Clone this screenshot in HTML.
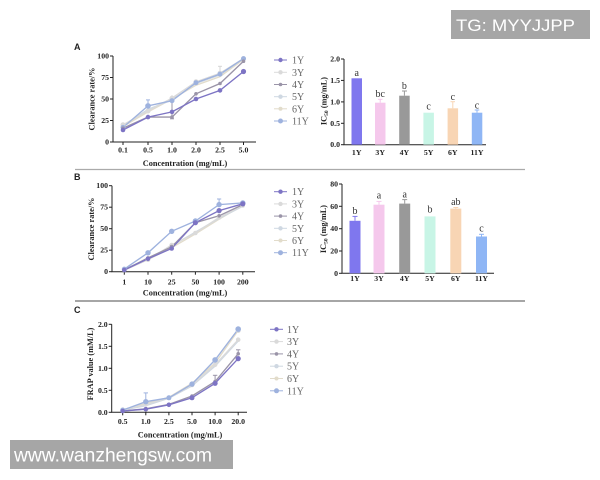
<!DOCTYPE html>
<html><head><meta charset="utf-8"><style>
html,body{margin:0;padding:0;background:#fff;}
svg{display:block;}
.t{font-family:"Liberation Serif",serif;font-weight:bold;font-size:7.8px;fill:#222;}
.tt{font-family:"Liberation Serif",serif;font-weight:bold;font-size:8.3px;fill:#222;}
.lg{font-family:"Liberation Serif",serif;font-size:10px;fill:#666;}
.ax{stroke:#222;stroke-width:1;fill:none;}
.pl{font-family:"Liberation Sans",sans-serif;font-weight:bold;font-size:9px;fill:#222;}
.let{font-family:"Liberation Serif",serif;font-size:10px;fill:#333;}
polyline{stroke-width:1.35;}
</style></head><body>
<svg width="600" height="480" viewBox="0 0 600 480" xmlns="http://www.w3.org/2000/svg">
<rect width="600" height="480" fill="#fff"/>

<!-- separators -->
<line x1="75" y1="169.5" x2="525" y2="169.5" stroke="#aaa" stroke-width="1.2"/>
<line x1="75" y1="301" x2="525" y2="301" stroke="#888" stroke-width="1.5"/>

<!-- ============ PANEL A LINE ============ -->
<text class="pl" x="74" y="50">A</text>
<g>
<path class="ax" d="M113,56 V142 H256"/>
<g stroke="#222">
<line x1="110" y1="142" x2="113" y2="142"/><line x1="110" y1="120.5" x2="113" y2="120.5"/><line x1="110" y1="99" x2="113" y2="99"/><line x1="110" y1="77.5" x2="113" y2="77.5"/><line x1="110" y1="56" x2="113" y2="56"/>
<line x1="123" y1="142" x2="123" y2="145"/><line x1="148" y1="142" x2="148" y2="145"/><line x1="172" y1="142" x2="172" y2="145"/><line x1="196" y1="142" x2="196" y2="145"/><line x1="220" y1="142" x2="220" y2="145"/><line x1="243.5" y1="142" x2="243.5" y2="145"/>
</g>
<g class="t" text-anchor="end">
<text x="109" y="144.5">0</text><text x="109" y="123">25</text><text x="109" y="101.5">50</text><text x="109" y="80">75</text><text x="109" y="58.5">100</text>
</g>
<g class="t" text-anchor="middle">
<text x="123" y="152.5">0.1</text><text x="148" y="152.5">0.5</text><text x="172" y="152.5">1.0</text><text x="196" y="152.5">2.0</text><text x="220" y="152.5">2.5</text><text x="243.5" y="152.5">5.0</text>
</g>
<g class="tt" text-anchor="middle">
<text x="185" y="166">Concentration (mg/mL)</text>
<text transform="translate(94.5,99) rotate(-90)">Clearance rate/%</text>
</g>
<!-- error bars -->
<line x1="148" y1="99.9" x2="148" y2="106" stroke="#9eb2de"/><line x1="146" y1="99.9" x2="150" y2="99.9" stroke="#9eb2de"/>
<line x1="172" y1="95.5" x2="172" y2="118.8" stroke="#9a94a8"/><line x1="170" y1="118.8" x2="174" y2="118.8" stroke="#9a94a8"/>
<line x1="220" y1="66.3" x2="220" y2="74" stroke="#d6d6d6"/><line x1="218" y1="66.3" x2="222" y2="66.3" stroke="#d6d6d6"/>
<!-- series -->
<polyline fill="none" stroke="#e2dccb" points="123,126.5 148,111.9 172,99 196,85.2 220,76.6 243.5,59.4"/>
<polyline fill="none" stroke="#cfd8e2" points="123,125.7 148,109.3 172,99.9 196,83.5 220,74.9 243.5,58.6"/>
<polyline fill="none" stroke="#dadada" points="123,124.8 148,111 172,98.1 196,81.8 220,73.2 243.5,58.6"/>
<polyline fill="none" stroke="#9eb2de" points="123,127.4 148,105.9 172,100.7 196,82.7 220,74.1 243.5,58.6"/>
<polyline fill="none" stroke="#9a94a8" points="123,128.2 148,117.1 172,117.1 196,93.8 220,83.5 243.5,61.2"/>
<polyline fill="none" stroke="#7d74c4" points="123,130 148,117.1 172,111.9 196,99 220,90.4 243.5,71.5"/>
<g fill="#dadada"><circle cx="123" cy="124.8" r="2.5"/><circle cx="148" cy="111" r="2.5"/><circle cx="172" cy="98.1" r="2.5"/><circle cx="196" cy="81.8" r="2.5"/><circle cx="220" cy="73.2" r="2.5"/><circle cx="243.5" cy="58.6" r="2.5"/></g>
<g fill="#9eb2de"><circle cx="123" cy="127.4" r="2.5"/><circle cx="148" cy="105.9" r="2.8"/><circle cx="172" cy="100.7" r="2.5"/><circle cx="196" cy="82.7" r="2.5"/><circle cx="220" cy="74.1" r="2.5"/><circle cx="243.5" cy="58.6" r="2.5"/></g>
<g fill="#9a94a8"><circle cx="123" cy="128.2" r="1.8"/><circle cx="148" cy="117.1" r="1.8"/><circle cx="172" cy="117.1" r="1.8"/><circle cx="196" cy="93.8" r="1.8"/><circle cx="220" cy="83.5" r="1.8"/><circle cx="243.5" cy="61.2" r="1.8"/></g>
<g fill="#7d74c4"><circle cx="123" cy="130" r="2.3"/><circle cx="148" cy="117.1" r="2.3"/><circle cx="172" cy="111.9" r="2.3"/><circle cx="196" cy="99" r="2.3"/><circle cx="220" cy="90.4" r="2.3"/><circle cx="243.5" cy="71.5" r="2.6"/></g>
</g>
<!-- legend A -->
<g>
<line x1="274" y1="60" x2="287" y2="60" stroke="#7d74c4"/><circle cx="280.5" cy="60" r="2.2" fill="#7d74c4"/>
<line x1="274" y1="72.3" x2="287" y2="72.3" stroke="#dadada"/><circle cx="280.5" cy="72.3" r="2.2" fill="#dadada"/>
<line x1="274" y1="84.5" x2="287" y2="84.5" stroke="#9a94a8"/><circle cx="280.5" cy="84.5" r="1.8" fill="#9a94a8"/>
<line x1="274" y1="96.7" x2="287" y2="96.7" stroke="#cfd8e2"/><circle cx="280.5" cy="96.7" r="2.2" fill="#cfd8e2"/>
<line x1="274" y1="108.8" x2="287" y2="108.8" stroke="#e2dccb"/><circle cx="280.5" cy="108.8" r="2" fill="#e2dccb"/>
<line x1="274" y1="121" x2="287" y2="121" stroke="#9eb2de"/><circle cx="280.5" cy="121" r="2.5" fill="#9eb2de"/>
<g class="lg"><text x="292" y="63.5">1Y</text><text x="292" y="75.8">3Y</text><text x="292" y="88">4Y</text><text x="292" y="100.2">5Y</text><text x="292" y="112.3">6Y</text><text x="292" y="124.5">11Y</text></g>
</g>

<!-- ============ PANEL A BAR ============ -->
<g>
<path class="ax" d="M344,59 V144.7 H486"/>
<g stroke="#222">
<line x1="341" y1="144.7" x2="344" y2="144.7"/><line x1="341" y1="123.3" x2="344" y2="123.3"/><line x1="341" y1="101.9" x2="344" y2="101.9"/><line x1="341" y1="80.4" x2="344" y2="80.4"/><line x1="341" y1="59" x2="344" y2="59"/>
</g>
<g class="t" text-anchor="end">
<text x="340" y="147.2">0.0</text><text x="340" y="125.8">0.5</text><text x="340" y="104.4">1.0</text><text x="340" y="82.9">1.5</text><text x="340" y="61.5">2.0</text>
</g>
<rect x="351.5" y="78.3" width="10.5" height="66.4" fill="#7f77ee"/>
<rect x="375" y="102.7" width="10.5" height="42" fill="#f5c8ec"/>
<rect x="399.2" y="95.7" width="10.5" height="49" fill="#999"/>
<rect x="423.4" y="112.7" width="10.5" height="32" fill="#c8f5e6"/>
<rect x="447.6" y="108.3" width="10.5" height="36.4" fill="#f8d5b4"/>
<rect x="471.8" y="112.7" width="10.5" height="32" fill="#8fb6f5"/>
<g stroke-width="1">
<line x1="380.2" y1="99.3" x2="380.2" y2="102.7" stroke="#f5c8ec"/><line x1="378" y1="99.3" x2="382.5" y2="99.3" stroke="#f5c8ec"/>
<line x1="404.4" y1="91" x2="404.4" y2="95.7" stroke="#999"/><line x1="402" y1="91" x2="407" y2="91" stroke="#999"/>
<line x1="452.8" y1="101.7" x2="452.8" y2="108.3" stroke="#f8d5b4"/><line x1="450.5" y1="101.7" x2="455" y2="101.7" stroke="#f8d5b4"/>
<line x1="477" y1="110" x2="477" y2="112.7" stroke="#8fb6f5"/><line x1="474.7" y1="110" x2="479.3" y2="110" stroke="#8fb6f5"/>
</g>
<g class="let" text-anchor="middle">
<text x="356.7" y="76">a</text><text x="380.2" y="97">bc</text><text x="404.4" y="89">b</text><text x="428.6" y="109.5">c</text><text x="452.8" y="100">c</text><text x="477" y="108.5">c</text>
</g>
<g class="t" text-anchor="middle">
<text x="356.7" y="155">1Y</text><text x="380.2" y="155">3Y</text><text x="404.4" y="155">4Y</text><text x="428.6" y="155">5Y</text><text x="452.8" y="155">6Y</text><text x="477" y="155">11Y</text>
</g>
<g class="tt" text-anchor="middle">
<text transform="translate(326.5,101) rotate(-90)">IC<tspan font-size="5.5" dy="1.5">50</tspan><tspan dy="-1.5"> (mg/mL)</tspan></text>
</g>
</g>

<!-- ============ PANEL B LINE ============ -->
<text class="pl" x="74" y="180">B</text>
<g>
<path class="ax" d="M112,185.7 V271.7 H255"/>
<g stroke="#222">
<line x1="109" y1="271.7" x2="112" y2="271.7"/><line x1="109" y1="250.2" x2="112" y2="250.2"/><line x1="109" y1="228.7" x2="112" y2="228.7"/><line x1="109" y1="207.2" x2="112" y2="207.2"/><line x1="109" y1="185.7" x2="112" y2="185.7"/>
<line x1="124.3" y1="271.7" x2="124.3" y2="274.7"/><line x1="148" y1="271.7" x2="148" y2="274.7"/><line x1="171.7" y1="271.7" x2="171.7" y2="274.7"/><line x1="195.4" y1="271.7" x2="195.4" y2="274.7"/><line x1="219.1" y1="271.7" x2="219.1" y2="274.7"/><line x1="242.8" y1="271.7" x2="242.8" y2="274.7"/>
</g>
<g class="t" text-anchor="end">
<text x="108" y="274.2">0</text><text x="108" y="252.7">25</text><text x="108" y="231.2">50</text><text x="108" y="209.7">75</text><text x="108" y="188.2">100</text>
</g>
<g class="t" text-anchor="middle">
<text x="124.3" y="284.5">1</text><text x="148" y="284.5">10</text><text x="171.7" y="284.5">25</text><text x="195.4" y="284.5">50</text><text x="219.1" y="284.5">100</text><text x="242.8" y="284.5">200</text>
</g>
<g class="tt" text-anchor="middle">
<text x="185" y="295.5">Concentration (mg/mL)</text>
<text transform="translate(94,229) rotate(-90)">Clearance rate/%</text>
</g>
<line x1="219.1" y1="199" x2="219.1" y2="204.6" stroke="#9eb2de"/><line x1="217" y1="199" x2="221.2" y2="199" stroke="#9eb2de"/>
<polyline fill="none" stroke="#e2dccb" points="124.3,270 148,259.7 171.7,247.6 195.4,233.9 219.1,219.2 242.8,205.5"/>
<polyline fill="none" stroke="#cfd8e2" points="124.3,269.1 148,258.8 171.7,245.9 195.4,232.1 219.1,218.4 242.8,206.3"/>
<polyline fill="none" stroke="#dadada" points="124.3,270 148,259.7 171.7,245 195.4,233 219.1,217.5 242.8,205.5"/>
<polyline fill="none" stroke="#9eb2de" points="124.3,269.1 148,252.8 171.7,231.3 195.4,221 219.1,204.6 242.8,202.9"/>
<polyline fill="none" stroke="#9a94a8" points="124.3,270 148,257.9 171.7,246.8 195.4,222.7 219.1,215.8 242.8,204.6"/>
<polyline fill="none" stroke="#7d74c4" points="124.3,270 148,258.8 171.7,248.5 195.4,222.7 219.1,210.6 242.8,203.8"/>
<g fill="#dadada"><circle cx="124.3" cy="270" r="2.3"/><circle cx="148" cy="259.7" r="2.3"/><circle cx="171.7" cy="245" r="2.3"/><circle cx="195.4" cy="233" r="2.3"/><circle cx="219.1" cy="217.5" r="2.3"/><circle cx="242.8" cy="205.5" r="2.3"/></g>
<g fill="#9eb2de"><circle cx="124.3" cy="269.1" r="2.5"/><circle cx="148" cy="252.8" r="2.7"/><circle cx="171.7" cy="231.3" r="2.7"/><circle cx="195.4" cy="221" r="2.7"/><circle cx="219.1" cy="204.6" r="2.7"/><circle cx="242.8" cy="202.9" r="2.7"/></g>
<g fill="#9a94a8"><circle cx="124.3" cy="270" r="1.8"/><circle cx="148" cy="257.9" r="1.8"/><circle cx="171.7" cy="246.8" r="2"/><circle cx="195.4" cy="222.7" r="2"/><circle cx="219.1" cy="215.8" r="1.8"/><circle cx="242.8" cy="204.6" r="1.8"/></g>
<g fill="#7d74c4"><circle cx="124.3" cy="270" r="2.3"/><circle cx="148" cy="258.8" r="2.3"/><circle cx="171.7" cy="248.5" r="2.3"/><circle cx="195.4" cy="222.7" r="2.6"/><circle cx="219.1" cy="210.6" r="2.6"/><circle cx="242.8" cy="203.8" r="2.6"/></g>
</g>
<!-- legend B -->
<g>
<line x1="274" y1="191.7" x2="287" y2="191.7" stroke="#7d74c4"/><circle cx="280.5" cy="191.7" r="2.2" fill="#7d74c4"/>
<line x1="274" y1="203.9" x2="287" y2="203.9" stroke="#dadada"/><circle cx="280.5" cy="203.9" r="2.2" fill="#dadada"/>
<line x1="274" y1="216.1" x2="287" y2="216.1" stroke="#9a94a8"/><circle cx="280.5" cy="216.1" r="1.8" fill="#9a94a8"/>
<line x1="274" y1="228.3" x2="287" y2="228.3" stroke="#cfd8e2"/><circle cx="280.5" cy="228.3" r="2.2" fill="#cfd8e2"/>
<line x1="274" y1="240.5" x2="287" y2="240.5" stroke="#e2dccb"/><circle cx="280.5" cy="240.5" r="2" fill="#e2dccb"/>
<line x1="274" y1="252.7" x2="287" y2="252.7" stroke="#9eb2de"/><circle cx="280.5" cy="252.7" r="2.5" fill="#9eb2de"/>
<g class="lg"><text x="292" y="195.2">1Y</text><text x="292" y="207.4">3Y</text><text x="292" y="219.6">4Y</text><text x="292" y="231.8">5Y</text><text x="292" y="244">6Y</text><text x="292" y="256.2">11Y</text></g>
</g>

<!-- ============ PANEL B BAR ============ -->
<g>
<path class="ax" d="M342,184 V273.3 H494"/>
<g stroke="#222">
<line x1="339" y1="273.3" x2="342" y2="273.3"/><line x1="339" y1="251" x2="342" y2="251"/><line x1="339" y1="228.7" x2="342" y2="228.7"/><line x1="339" y1="206.3" x2="342" y2="206.3"/><line x1="339" y1="184" x2="342" y2="184"/>
</g>
<g class="t" text-anchor="end">
<text x="338" y="275.8">0</text><text x="338" y="253.5">20</text><text x="338" y="231.2">40</text><text x="338" y="208.8">60</text><text x="338" y="186.5">80</text>
</g>
<rect x="349.5" y="220.8" width="11" height="52.5" fill="#7f77ee"/>
<rect x="373.5" y="204.7" width="11" height="68.6" fill="#f5c8ec"/>
<rect x="399.2" y="203.6" width="11" height="69.7" fill="#999"/>
<rect x="424.5" y="216.4" width="11" height="56.9" fill="#c8f5e6"/>
<rect x="450.3" y="208.6" width="11" height="64.7" fill="#f8d5b4"/>
<rect x="476" y="236.5" width="11" height="36.8" fill="#8fb6f5"/>
<g>
<line x1="355" y1="216.4" x2="355" y2="220.8" stroke="#7f77ee"/><line x1="352.5" y1="216.4" x2="357.5" y2="216.4" stroke="#7f77ee"/>
<line x1="379" y1="201.4" x2="379" y2="204.7" stroke="#f5c8ec"/><line x1="376.5" y1="201.4" x2="381.5" y2="201.4" stroke="#f5c8ec"/>
<line x1="404.7" y1="199.6" x2="404.7" y2="203.6" stroke="#999"/><line x1="402.2" y1="199.6" x2="407.2" y2="199.6" stroke="#999"/>
<line x1="455.8" y1="207.5" x2="455.8" y2="208.6" stroke="#f8d5b4"/><line x1="453.3" y1="207.5" x2="458.3" y2="207.5" stroke="#f8d5b4"/>
<line x1="481.5" y1="234.3" x2="481.5" y2="236.5" stroke="#8fb6f5"/><line x1="479" y1="234.3" x2="484" y2="234.3" stroke="#8fb6f5"/>
</g>
<g class="let" text-anchor="middle">
<text x="355" y="214">b</text><text x="379" y="198.5">a</text><text x="404.7" y="197.5">a</text><text x="430" y="212.5">b</text><text x="455.8" y="205">ab</text><text x="481.5" y="231.5">c</text>
</g>
<g class="t" text-anchor="middle">
<text x="355" y="281">1Y</text><text x="379" y="281">3Y</text><text x="404.7" y="281">4Y</text><text x="430" y="281">5Y</text><text x="455.8" y="281">6Y</text><text x="481.5" y="281">11Y</text>
</g>
<g class="tt" text-anchor="middle">
<text transform="translate(326,229) rotate(-90)">IC<tspan font-size="5.5" dy="1.5">50</tspan><tspan dy="-1.5"> (mg/mL)</tspan></text>
</g>
</g>

<!-- ============ PANEL C LINE ============ -->
<text class="pl" x="74" y="313">C</text>
<g>
<path class="ax" d="M111.7,324.3 V412.3 H247"/>
<g stroke="#222">
<line x1="108.7" y1="412.3" x2="111.7" y2="412.3"/><line x1="108.7" y1="390.3" x2="111.7" y2="390.3"/><line x1="108.7" y1="368.3" x2="111.7" y2="368.3"/><line x1="108.7" y1="346.3" x2="111.7" y2="346.3"/><line x1="108.7" y1="324.3" x2="111.7" y2="324.3"/>
<line x1="122.7" y1="412.3" x2="122.7" y2="415.3"/><line x1="145.8" y1="412.3" x2="145.8" y2="415.3"/><line x1="168.9" y1="412.3" x2="168.9" y2="415.3"/><line x1="192" y1="412.3" x2="192" y2="415.3"/><line x1="215.1" y1="412.3" x2="215.1" y2="415.3"/><line x1="238.2" y1="412.3" x2="238.2" y2="415.3"/>
</g>
<g class="t" text-anchor="end">
<text x="107.7" y="414.8">0.0</text><text x="107.7" y="392.8">0.5</text><text x="107.7" y="370.8">1.0</text><text x="107.7" y="348.8">1.5</text><text x="107.7" y="326.8">2.0</text>
</g>
<g class="t" text-anchor="middle">
<text x="122.7" y="424">0.5</text><text x="145.8" y="424">1.0</text><text x="168.9" y="424">2.5</text><text x="192" y="424">5.0</text><text x="215.1" y="424">10.0</text><text x="238.2" y="424">20.0</text>
</g>
<g class="tt" text-anchor="middle">
<text x="180" y="437.5">Concentration (mg/mL)</text>
<text transform="translate(93,364) rotate(-90)">FRAP value (mM/L)</text>
</g>
<line x1="145.8" y1="392.9" x2="145.8" y2="401.7" stroke="#9eb2de"/><line x1="143.6" y1="392.9" x2="148" y2="392.9" stroke="#9eb2de"/>
<line x1="215.1" y1="375.3" x2="215.1" y2="381.5" stroke="#9a94a8"/><line x1="212.9" y1="375.3" x2="217.3" y2="375.3" stroke="#9a94a8"/>
<line x1="238.2" y1="349.8" x2="238.2" y2="353.8" stroke="#9a94a8"/><line x1="236" y1="349.8" x2="240.4" y2="349.8" stroke="#9a94a8"/>
<polyline fill="none" stroke="#e2dccb" points="122.7,409.7 145.8,403.5 168.9,397.3 192,383.3 215.1,363 238.2,330.5"/>
<polyline fill="none" stroke="#cfd8e2" points="122.7,410.1 145.8,405.7 168.9,398.2 192,385.9 215.1,366.1 238.2,341"/>
<polyline fill="none" stroke="#dadada" points="122.7,409.7 145.8,404.4 168.9,397.8 192,385 215.1,364.8 238.2,339.7"/>
<polyline fill="none" stroke="#9eb2de" points="122.7,410.1 145.8,401.7 168.9,397.8 192,384.1 215.1,359.9 238.2,329.1"/>
<polyline fill="none" stroke="#9a94a8" points="122.7,411 145.8,408.8 168.9,404.4 192,396 215.1,381.5 238.2,353.8"/>
<polyline fill="none" stroke="#7d74c4" points="122.7,411 145.8,409.2 168.9,404.8 192,397.8 215.1,383.3 238.2,358.6"/>
<g fill="#dadada"><circle cx="122.7" cy="409.7" r="2.3"/><circle cx="145.8" cy="404.4" r="2.3"/><circle cx="168.9" cy="397.8" r="2.3"/><circle cx="192" cy="385" r="2.3"/><circle cx="215.1" cy="364.8" r="2.3"/><circle cx="238.2" cy="339.7" r="2.3"/><circle cx="238.2" cy="330.5" r="2.5"/></g>
<g fill="#9eb2de"><circle cx="122.7" cy="410.1" r="2.5"/><circle cx="145.8" cy="401.7" r="2.7"/><circle cx="168.9" cy="397.8" r="2.5"/><circle cx="192" cy="384.1" r="2.7"/><circle cx="215.1" cy="359.9" r="2.8"/><circle cx="238.2" cy="329.1" r="2.8"/></g>
<g fill="#9a94a8"><circle cx="122.7" cy="411" r="1.8"/><circle cx="145.8" cy="408.8" r="1.8"/><circle cx="168.9" cy="404.4" r="1.8"/><circle cx="192" cy="396" r="1.8"/><circle cx="215.1" cy="381.5" r="1.8"/><circle cx="238.2" cy="353.8" r="1.8"/></g>
<g fill="#7d74c4"><circle cx="122.7" cy="411" r="2.3"/><circle cx="145.8" cy="409.2" r="2.3"/><circle cx="168.9" cy="404.8" r="2.3"/><circle cx="192" cy="397.8" r="2.5"/><circle cx="215.1" cy="383.3" r="2.6"/><circle cx="238.2" cy="358.6" r="2.6"/></g>
</g>
<!-- legend C -->
<g>
<line x1="270" y1="329.3" x2="283" y2="329.3" stroke="#7d74c4"/><circle cx="276.5" cy="329.3" r="2.2" fill="#7d74c4"/>
<line x1="270" y1="341.6" x2="283" y2="341.6" stroke="#dadada"/><circle cx="276.5" cy="341.6" r="2.2" fill="#dadada"/>
<line x1="270" y1="353.9" x2="283" y2="353.9" stroke="#9a94a8"/><circle cx="276.5" cy="353.9" r="1.8" fill="#9a94a8"/>
<line x1="270" y1="366.2" x2="283" y2="366.2" stroke="#cfd8e2"/><circle cx="276.5" cy="366.2" r="2.2" fill="#cfd8e2"/>
<line x1="270" y1="378.5" x2="283" y2="378.5" stroke="#e2dccb"/><circle cx="276.5" cy="378.5" r="2" fill="#e2dccb"/>
<line x1="270" y1="390.8" x2="283" y2="390.8" stroke="#9eb2de"/><circle cx="276.5" cy="390.8" r="2.5" fill="#9eb2de"/>
<g class="lg"><text x="287" y="332.8">1Y</text><text x="287" y="345.1">3Y</text><text x="287" y="357.4">4Y</text><text x="287" y="369.7">5Y</text><text x="287" y="382">6Y</text><text x="287" y="394.3">11Y</text></g>
</g>

<!-- watermarks -->
<rect x="451" y="10" width="139" height="29" fill="#a6a6a6"/>
<text x="456" y="31" font-family="Liberation Sans, sans-serif" font-size="17" fill="#fff" textLength="119" lengthAdjust="spacingAndGlyphs">TG: MYYJJPP</text>
<rect x="10" y="440" width="223" height="29" fill="#a6a6a6"/>
<text x="14" y="461.5" font-family="Liberation Sans, sans-serif" font-size="19" fill="#fff" textLength="198" lengthAdjust="spacingAndGlyphs">www.wanzhengsw.com</text>
</svg>
</body></html>
